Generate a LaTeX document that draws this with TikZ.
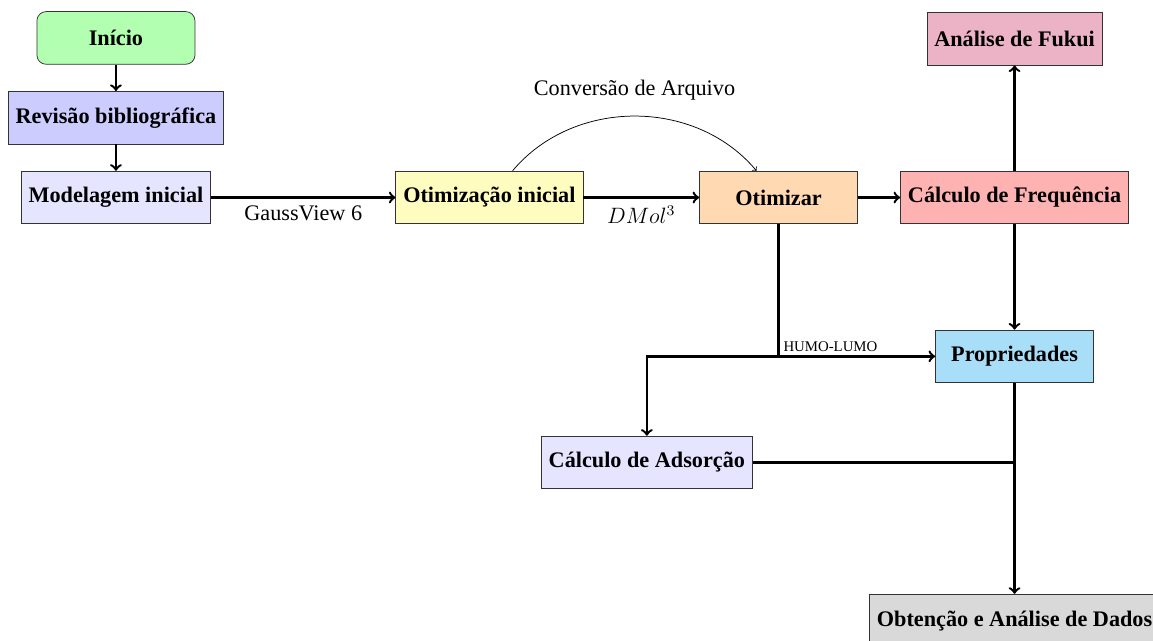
\documentclass[tikz,border=0pt,12pt]{standalone}
\usepackage{fontspec}
\setmainfont{Liberation Serif}
\usepackage{xcolor}
\usepackage{tikz}
\usetikzlibrary{positioning,calc}

\definecolor{propblue}{RGB}{168,222,248}

\begin{document}
\begin{tikzpicture}[
    node distance=5mm,
    % --- generic stage box ---
    box/.style={rectangle, draw=black!80, fill=#1, font=\bfseries,
                minimum width=3cm, minimum height=1cm, align=center},
    box/.default=white,
    % --- rounded start box ---
    startbox/.style={box=green!30, rounded corners=5pt},
    flow/.style={->, line width=1.3pt},
    conv/.style={->},
    lbl/.style={font=\normalsize},
  ]

  % frame of the page
  \useasboundingbox (0,0) rectangle (21.88,-12.16);

  % ---- LEFT COLUMN -------------------------------------------------------
  \node[startbox] (inicio) at (2.2,-0.72) {Início};
  \node[box=blue!20, below=of inicio] (revisao) {Revisão bibliográfica};
  \node[box=blue!10, below=of revisao] (modelagem) {Modelagem inicial};

  \draw[flow] (inicio) -- (revisao);
  \draw[flow] (revisao) -- (modelagem);

  % ---- OPTIMISATION CHAIN ------------------------------------------------
  \node[box=yellow!25, right=3.5cm of modelagem] (otimini) {Otimização inicial};
  \node[box=orange!30, right=2.2cm of otimini] (otim) {Otimizar};
  \node[box=red!30, right=8mm of otim] (freq) {Cálculo de Frequência};
  \node[box=purple!30, above=2cm of freq] (fukui) {Análise de Fukui};

  \draw[flow] (modelagem) -- node[below, lbl] {GaussView 6} (otimini);
  \draw[flow] (otimini) -- node[below, lbl] {$DMol^3$} (otim);
  \draw[conv] ([xshift=0.44cm]otimini.north) to[out=50,in=130]
        node[above, lbl, yshift=1.5mm] {Conversão de Arquivo}
        ([xshift=-0.42cm]otim.north);
  \draw[flow] (otim) -- (freq);
  \draw[flow] (freq) -- (fukui);

  % ---- PROPERTIES AND ADSORPTION -----------------------------------------
  \node[box=propblue, below=2cm of freq] (prop) {Propriedades};
  \coordinate (split) at (otim.south |- prop.west);
  \node[box=blue!10, anchor=north] (adsorcao)
        at ($(split |- prop.south)+(-2.5,-1)$) {Cálculo de Adsorção};
  \node[box=gray!30, below=4cm of prop] (dados) {Obtenção e Análise de Dados};

  \draw[flow] (freq) -- (prop);
  \draw[flow] (otim.south) |- node[pos=0.5, anchor=south west, font=\scriptsize,
        inner sep=2pt] {HUMO-LUMO} (prop.west);
  \draw[flow] (split) -| (adsorcao.north);
  \draw[line width=1.3pt] (adsorcao.east) -- (adsorcao.east -| prop.south);
  \draw[flow] (prop) -- (dados);

\end{tikzpicture}
\end{document}
